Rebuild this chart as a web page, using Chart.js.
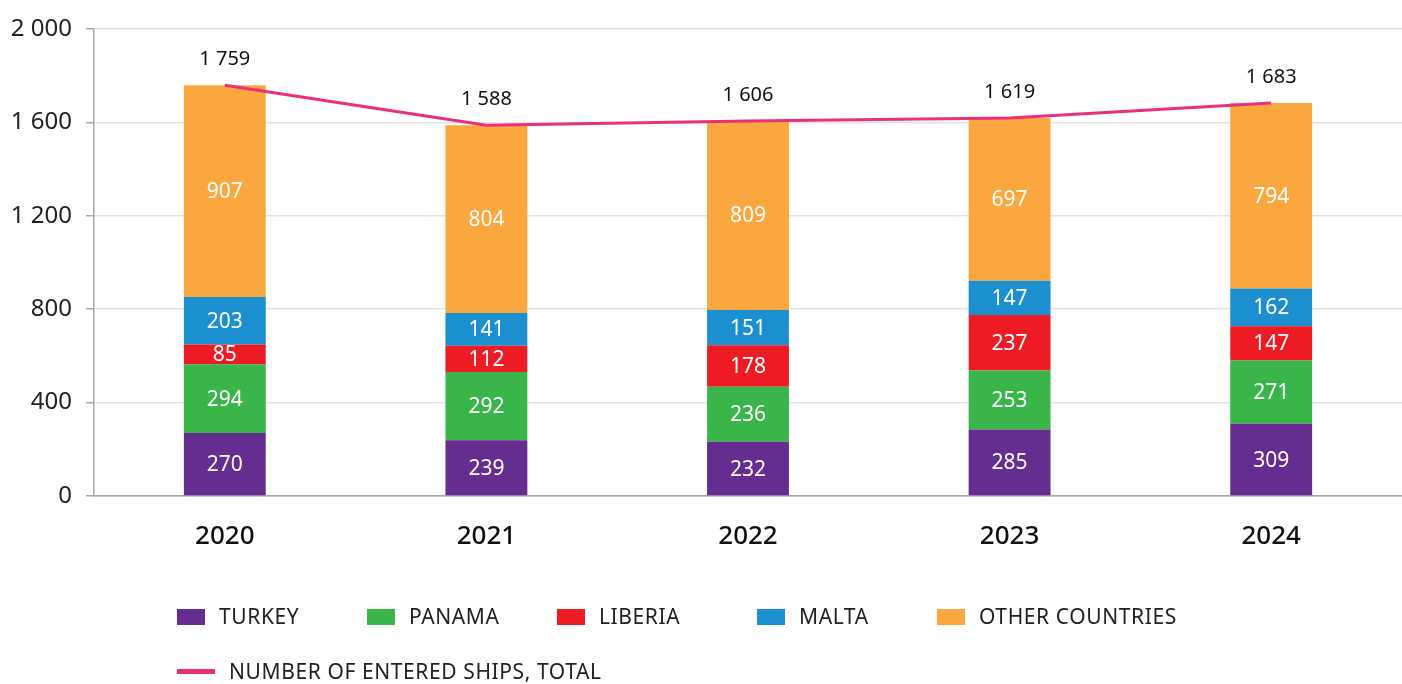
<!DOCTYPE html>
<html>
<head>
<meta charset="utf-8">
<script src="https://cdn.jsdelivr.net/npm/chart.js@4/dist/chart.umd.min.js"></script>
<style>
  html, body { margin: 0; padding: 0; background: #fff; }
  #wrap { width: 1402px; height: 684px; }
</style>
</head>
<body>
<div id="wrap"><canvas id="grafico" width="1402" height="684"></canvas></div>
<script>
const ctx = document.getElementById('grafico')

// dados
const years = ['2020', '2021', '2022', '2023', '2024']
const turkey = [270, 239, 232, 285, 309]
const panama = [294, 292, 236, 253, 271]
const liberia = [85, 112, 178, 237, 147]
const malta = [203, 141, 151, 147, 162]
const others = [907, 804, 809, 697, 794]
const totals = [1759, 1588, 1606, 1619, 1683]
const yTicks = [0, 400, 800, 1200, 1600, 2000]

const FONT = "'Noto Sans', sans-serif"
const fmt = v => String(v).replace(/\B(?=(\d{3})+(?!\d))/g, ' ')

Chart.defaults.font.family = FONT
Chart.defaults.color = '#222'

const bar = (label, data, color) => ({
    type: 'bar', label, data,
    backgroundColor: color,
    borderWidth: 0,
    stack: 's',
    barPercentage: 0.313,
    categoryPercentage: 1,
    order: 2
})

const data = {
    labels: years,
    datasets: [
        {
            type: 'line',
            label: 'NUMBER OF ENTERED SHIPS, TOTAL',
            data: totals,
            borderColor: '#e8317a',
            backgroundColor: '#e8317a',
            borderWidth: 3,
            pointRadius: 0,
            tension: 0,
            order: 1
        },
        bar('TURKEY', turkey, '#662d91'),
        bar('PANAMA', panama, '#39b54a'),
        bar('LIBERIA', liberia, '#ed1c24'),
        bar('MALTA', malta, '#1c8fd0'),
        bar('OTHER COUNTRIES', others, '#f9a73e')
    ]
}

// rótulos dentro das barras e acima da linha
const labelsPlugin = {
    id: 'labels',
    afterDatasetsDraw(chart) {
        const c = chart.ctx
        c.save()
        c.textAlign = 'center'
        c.textBaseline = 'middle'
        chart.data.datasets.forEach((ds, i) => {
            const meta = chart.getDatasetMeta(i)
            meta.data.forEach((el, j) => {
                if (ds.type === 'bar') {
                    c.font = '21px ' + FONT
                    c.fillStyle = '#fff'
                    c.fillText(fmt(ds.data[j]), el.x, (el.y + el.base) / 2 + 1)
                } else {
                    c.font = '20px ' + FONT
                    c.fillStyle = '#111'
                    c.fillText(fmt(ds.data[j]), el.x, el.y - 26)
                }
            })
        })
        c.restore()
    }
}

// legenda desenhada à mão
const legendPlugin = {
    id: 'customLegend',
    afterDraw(chart) {
        const c = chart.ctx
        const pos = [[177, 617], [367, 617], [557, 617], [757, 617], [937, 617]]
        c.save()
        c.font = '21px ' + FONT
        c.letterSpacing = '0.6px'
        c.textBaseline = 'middle'
        c.textAlign = 'left'
        chart.data.datasets.slice(1).forEach((ds, k) => {
            const [x, y] = pos[k]
            c.fillStyle = ds.backgroundColor
            c.fillRect(x, y - 8, 28, 16)
            c.fillStyle = '#222'
            c.fillText(ds.label, x + 42, y + 1)
        })
        const line = chart.data.datasets[0]
        c.fillStyle = line.borderColor
        c.fillRect(177, 669, 38, 5)
        c.fillStyle = '#222'
        c.fillText(line.label, 229, 673)
        c.restore()
    }
}

const config = {
    data,
    options: {
        responsive: false,
        animation: false,
        layout: { padding: { top: 29, right: 0, bottom: 0, left: 0 } },
        plugins: {
            legend: { display: false },
            tooltip: { enabled: false }
        },
        scales: {
            x: {
                stacked: true,
                grid: { display: false, drawTicks: false },
                border: { color: '#aaa', width: 1.5 },
                ticks: { font: { size: 26, weight: 500 }, color: '#111', padding: 25 },
                afterFit(s) { s.height = 188 }
            },
            y: {
                stacked: true,
                min: 0,
                max: 2000,
                afterBuildTicks(s) { s.ticks = yTicks.map(v => ({ value: v })) },
                grid: { color: '#e3e3e3', tickColor: '#aaa', tickLength: 8, lineWidth: 1.5 },
                border: { color: '#aaa', width: 1.5 },
                ticks: { font: { size: 24 }, color: '#222', padding: 14, callback: v => fmt(v) },
                afterFit(s) { s.width = 94 }
            }
        }
    },
    plugins: [labelsPlugin, legendPlugin]
}

const graph = new Chart(ctx, config)
</script>
</body>
</html>
